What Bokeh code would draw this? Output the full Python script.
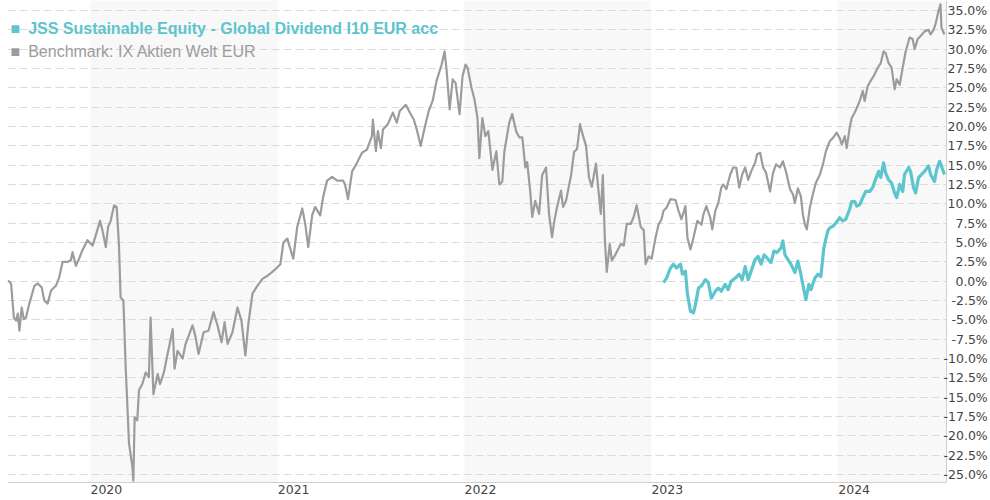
import datetime as dt
from bokeh.plotting import figure
from bokeh.models import Range1d, FixedTicker, BoxAnnotation, Label, DatetimeTickFormatter
from bokeh.embed import file_html
from bokeh.resources import INLINE

# ---------------- data (decimal years, % performance) ----------------
bench_t = [
    2019.560, 2019.576, 2019.591, 2019.603, 2019.612, 2019.621, 2019.633, 2019.644, 2019.656, 2019.674,
    2019.701, 2019.719, 2019.740, 2019.754, 2019.772, 2019.790, 2019.816, 2019.834, 2019.852, 2019.879,
    2019.896, 2019.905, 2019.923, 2019.940, 2019.958, 2019.985, 2020.012, 2020.029, 2020.052, 2020.065,
    2020.083, 2020.095, 2020.109, 2020.127, 2020.141, 2020.153, 2020.162, 2020.177, 2020.189, 2020.207,
    2020.225, 2020.230, 2020.237, 2020.251, 2020.260, 2020.278, 2020.296, 2020.313, 2020.322, 2020.337,
    2020.360, 2020.372, 2020.393, 2020.402, 2020.440, 2020.450, 2020.466, 2020.493, 2020.509, 2020.546,
    2020.562, 2020.578, 2020.605, 2020.631, 2020.658, 2020.679, 2020.701, 2020.717, 2020.733, 2020.759,
    2020.786, 2020.807, 2020.828, 2020.844, 2020.866, 2020.892, 2020.919, 2020.946, 2020.972, 2020.999,
    2021.015, 2021.031, 2021.052, 2021.063, 2021.084, 2021.105, 2021.132, 2021.148, 2021.164, 2021.185,
    2021.201, 2021.228, 2021.244, 2021.265, 2021.292, 2021.319, 2021.351, 2021.361, 2021.377, 2021.399,
    2021.425, 2021.452, 2021.478, 2021.505, 2021.510, 2021.526, 2021.537, 2021.553, 2021.564, 2021.590,
    2021.617, 2021.638, 2021.654, 2021.686, 2021.708, 2021.729, 2021.745, 2021.766, 2021.787, 2021.809,
    2021.830, 2021.851, 2021.878, 2021.894, 2021.905, 2021.921, 2021.937, 2021.953, 2021.974, 2021.990,
    2022.006, 2022.017, 2022.038, 2022.054, 2022.070, 2022.080, 2022.096, 2022.112, 2022.128, 2022.150,
    2022.171, 2022.187, 2022.203, 2022.214, 2022.240, 2022.256, 2022.278, 2022.294, 2022.310, 2022.326,
    2022.336, 2022.352, 2022.363, 2022.379, 2022.400, 2022.416, 2022.437, 2022.453, 2022.469, 2022.480,
    2022.496, 2022.517, 2022.528, 2022.544, 2022.571, 2022.587, 2022.603, 2022.619, 2022.629, 2022.651,
    2022.667, 2022.682, 2022.704, 2022.714, 2022.730, 2022.741, 2022.752, 2022.762, 2022.778, 2022.789,
    2022.810, 2022.837, 2022.853, 2022.869, 2022.890, 2022.906, 2022.922, 2022.944, 2022.960, 2022.970,
    2022.986, 2023.002, 2023.023, 2023.039, 2023.055, 2023.066, 2023.082, 2023.103, 2023.130, 2023.146,
    2023.162, 2023.183, 2023.194, 2023.210, 2023.226, 2023.247, 2023.269, 2023.279, 2023.295, 2023.316,
    2023.327, 2023.343, 2023.359, 2023.375, 2023.386, 2023.402, 2023.423, 2023.439, 2023.455, 2023.471,
    2023.487, 2023.503, 2023.519, 2023.535, 2023.556, 2023.567, 2023.583, 2023.599, 2023.615, 2023.636,
    2023.652, 2023.668, 2023.689, 2023.705, 2023.721, 2023.743, 2023.759, 2023.769, 2023.785, 2023.801,
    2023.812, 2023.823, 2023.833, 2023.849, 2023.865, 2023.881, 2023.903, 2023.919, 2023.935, 2023.956,
    2023.972, 2023.993, 2024.009, 2024.020, 2024.036, 2024.046, 2024.062, 2024.073, 2024.089, 2024.100,
    2024.116, 2024.132, 2024.142, 2024.158, 2024.174, 2024.190, 2024.212, 2024.228, 2024.243, 2024.254,
    2024.270, 2024.286, 2024.302, 2024.313, 2024.329, 2024.345, 2024.361, 2024.382, 2024.398, 2024.409,
    2024.425, 2024.441, 2024.462, 2024.483, 2024.494, 2024.510, 2024.520, 2024.536, 2024.547, 2024.552,
    2024.568,
]
bench_v = [
    0.1, -0.3, -4.7, -5.1, -4.2, -6.4, -3.4, -4.9, -4.7, -2.9,
    -0.6, -0.3, -0.8, -2.5, -2.9, -1.2, -0.6, 0.5, 2.5, 2.5,
    2.7, 3.75, 2.0, 2.9, 4.0, 5.3, 4.6, 5.9, 7.8, 6.6,
    4.4, 7.0, 7.8, 9.8, 9.6, 4.8, -2.1, -2.5, -11.1, -21.0,
    -24.0, -25.8, -17.6, -18.0, -14.1, -13.3, -11.8, -12.4, -4.7, -14.6,
    -12.0, -13.3, -11.8, -10.7, -6.2, -11.3, -9.0, -10.0, -8.1, -5.7,
    -7.2, -9.4, -6.6, -6.4, -4.0, -5.7, -7.9, -5.3, -8.1, -6.6,
    -3.4, -5.1, -9.6, -5.5, -1.6, -0.6, 0.3, 0.7, 1.2, 1.8,
    2.2, 5.0, 5.5, 4.6, 2.9, 7.0, 9.4, 7.4, 4.4, 8.5,
    9.6, 8.5, 10.9, 13.0, 13.5, 13.0, 13.0, 12.5, 10.6, 14.2,
    15.3, 16.6, 17.0, 18.75, 20.9, 16.8, 19.4, 17.2, 19.6, 20.3,
    21.8, 20.5, 22.0, 22.8, 21.8, 20.9, 19.6, 17.5, 19.8, 22.0,
    23.3, 25.9, 28.0, 29.7, 27.2, 22.2, 26.1, 25.6, 21.6, 26.5,
    28.0, 27.6, 25.0, 23.5, 21.1, 15.9, 21.1, 18.75, 19.4, 14.4,
    16.8, 12.5, 12.9, 16.8, 20.5, 21.6, 19.3, 18.6, 18.6, 14.7,
    15.4, 11.7, 8.3, 10.4, 8.7, 13.7, 14.7, 8.7, 5.7, 7.6,
    9.6, 11.7, 9.6, 10.4, 13.7, 16.7, 17.1, 20.3, 19.3, 17.5,
    13.4, 12.2, 15.2, 12.6, 8.7, 13.7, 5.3, 1.2, 4.8, 2.7,
    3.5, 4.8, 4.6, 7.4, 7.4, 8.3, 9.8, 7.0, 6.6, 2.2,
    3.2, 2.9, 5.6, 7.3, 8.0, 9.1, 9.5, 10.6, 10.5, 9.1,
    8.0, 9.7, 5.6, 4.1, 5.6, 7.8, 7.3, 8.6, 9.7, 8.2,
    6.7, 9.1, 10.1, 12.1, 12.5, 11.9, 13.8, 14.7, 14.7, 12.1,
    13.8, 14.7, 13.1, 14.2, 15.3, 16.4, 16.6, 14.7, 14.0, 11.6,
    14.0, 15.1, 14.7, 15.5, 14.2, 11.9, 11.2, 10.1, 12.0, 11.0,
    8.6, 7.3, 6.7, 9.5, 11.2, 12.7, 13.8, 15.1, 16.8, 18.1,
    18.5, 19.2, 18.5, 17.7, 18.75, 17.2, 19.8, 21.1, 21.8, 22.4,
    23.3, 24.6, 23.3, 25.2, 25.9, 26.5, 27.6, 28.2, 29.7, 29.5,
    28.2, 27.6, 24.8, 26.1, 25.4, 27.6, 29.7, 31.5, 31.3, 30.0,
    31.3, 31.7, 32.3, 32.5, 31.9, 32.5, 33.2, 34.9, 35.8, 32.8,
    31.9,
]
fund_t = [
    2023.066, 2023.082, 2023.103, 2023.119, 2023.135, 2023.157, 2023.167, 2023.183, 2023.194, 2023.210,
    2023.226, 2023.237, 2023.253, 2023.269, 2023.290, 2023.306, 2023.322, 2023.343, 2023.359, 2023.375,
    2023.396, 2023.412, 2023.428, 2023.450, 2023.471, 2023.487, 2023.503, 2023.519, 2023.535, 2023.556,
    2023.572, 2023.588, 2023.604, 2023.620, 2023.641, 2023.657, 2023.673, 2023.695, 2023.705, 2023.716,
    2023.732, 2023.748, 2023.769, 2023.785, 2023.801, 2023.817, 2023.828, 2023.844, 2023.855, 2023.876,
    2023.892, 2023.908, 2023.924, 2023.945, 2023.956, 2023.972, 2023.988, 2024.009, 2024.025, 2024.041,
    2024.062, 2024.073, 2024.089, 2024.100, 2024.116, 2024.132, 2024.148, 2024.169, 2024.185, 2024.196,
    2024.217, 2024.228, 2024.243, 2024.254, 2024.270, 2024.286, 2024.302, 2024.313, 2024.329, 2024.345,
    2024.355, 2024.377, 2024.387, 2024.403, 2024.414, 2024.430, 2024.446, 2024.462, 2024.483, 2024.494,
    2024.515, 2024.526, 2024.542, 2024.552, 2024.568,
]
fund_v = [
    -0.2, 0.4, 1.7, 2.2, 1.7, 2.2, 0.9, 1.3, -1.7, -3.9,
    -4.1, -3.0, -0.9, -0.6, 0.2, -0.2, -2.2, -1.3, -0.9, -1.3,
    -0.4, -1.1, 0.0, 0.4, 0.9, 0.2, 1.9, 0.2, 1.3, 2.8,
    3.2, 2.2, 3.4, 3.0, 2.4, 3.9, 3.7, 4.3, 5.2, 3.4,
    2.8, 2.2, 1.1, 2.6, 0.9, -1.1, -2.4, -0.4, -1.1, 0.4,
    0.9, 0.6, 4.3, 6.5, 6.9, 7.1, 7.5, 8.2, 7.8, 8.0,
    9.3, 10.3, 10.3, 9.7, 9.9, 10.8, 11.6, 11.6, 12.1, 12.9,
    14.2, 13.4, 15.3, 14.0, 13.1, 12.7, 11.4, 10.8, 12.5, 11.6,
    13.8, 14.7, 14.2, 12.1, 11.4, 13.4, 13.8, 14.2, 14.9, 13.8,
    12.9, 14.4, 15.5, 14.9, 13.8,
]
fund_name = "JSS Sustainable Equity - Global Dividend I10 EUR acc"
bench_name = "Benchmark: IX Aktien Welt EUR"
y_ticks = [-25.0, -22.5, -20.0, -17.5, -15.0, -12.5, -10.0, -7.5, -5.0, -2.5, 0.0, 2.5,
           5.0, 7.5, 10.0, 12.5, 15.0, 17.5, 20.0, 22.5, 25.0, 27.5, 30.0, 32.5, 35.0]
year_ticks = [2020, 2021, 2022, 2023, 2024]
shaded_years = [2020, 2022, 2024]

TEAL = "#5cc5cd"
GREY = "#9c9c9c"


def to_dt(t):
    y = int(t)
    start = dt.datetime(y, 1, 1)
    end = dt.datetime(y + 1, 1, 1)
    return start + (end - start) * (t - y)


def to_ms(d):
    return (d - dt.datetime(1970, 1, 1)).total_seconds() * 1000.0


x_start, x_end = to_dt(2019.557), to_dt(2024.579)

p = figure(width=990, height=500, x_axis_type="datetime", y_axis_location="right",
           x_range=Range1d(x_start, x_end), y_range=Range1d(-26.03, 36.29),
           output_backend="svg", toolbar_location=None,
           min_border_left=7, min_border_right=0, min_border_top=0, min_border_bottom=18)
p.outline_line_color = None
p.background_fill_color = "white"
p.border_fill_color = "white"

# alternating year bands
for yr in shaded_years:
    right = min(to_dt(yr + 1), x_end)
    p.add_layout(BoxAnnotation(left=to_dt(yr), right=right, fill_color="#f8f8f8",
                               fill_alpha=1.0, line_color=None, level="image"))

# grid
p.xgrid.visible = False
p.ygrid.grid_line_color = "#dadada"
p.ygrid.grid_line_dash = "8 4"
p.ygrid.grid_line_width = 1


# y axis (right) with right-aligned labels via figure/punctuation spaces
def fmt(v):
    s = f"{v:.1f}%"
    neg = v < 0
    two = abs(v) >= 10
    if neg and two:
        pad = ""
    elif neg:
        pad = "\u2007"
    elif two:
        pad = "\u2008"
    else:
        pad = "\u2007\u2008"
    return pad + s


p.yaxis.ticker = FixedTicker(ticks=y_ticks)
p.yaxis.major_label_overrides = {v: fmt(v) for v in y_ticks}
p.yaxis.major_tick_out = 0
p.yaxis.major_tick_in = 0
p.yaxis.minor_tick_out = 0
p.yaxis.minor_tick_in = 0
p.yaxis.axis_line_color = "#d0d0d0"
p.yaxis.major_label_text_font = "DejaVu Sans"
p.yaxis.major_label_text_font_size = "12.5px"
p.yaxis.major_label_text_color = "#444444"
p.yaxis.major_label_standoff = -3

# x axis: year labels starting at year boundary
label_shift = 0.086
p.xaxis.ticker = FixedTicker(ticks=[to_ms(to_dt(y + label_shift)) for y in year_ticks])
p.xaxis.formatter = DatetimeTickFormatter(years="%Y", months="%Y", days="%Y")
p.xaxis.major_tick_out = 0
p.xaxis.major_tick_in = 0
p.xaxis.minor_tick_out = 0
p.xaxis.minor_tick_in = 0
p.xaxis.axis_line_color = "#d0d0d0"
p.xaxis.major_label_text_font = "DejaVu Sans"
p.xaxis.major_label_text_font_size = "12.5px"
p.xaxis.major_label_text_color = "#444444"
p.xaxis.major_label_standoff = 2

# series
p.line([to_dt(t) for t in bench_t], bench_v, line_color=GREY, line_width=2.2, line_join="round")
p.line([to_dt(t) for t in fund_t], fund_v, line_color=TEAL, line_width=3.2, line_join="round")

# legend (top-left): square marker + series name
for i, (txt, col, style) in enumerate([(fund_name, TEAL, "bold"), (bench_name, GREY, "normal")]):
    base = 454 - 23 * i
    p.add_layout(Label(x=3, y=base, x_units="screen", y_units="screen",
                       text="\u25A0\u2002" + txt,
                       text_font="Liberation Sans", text_font_size="16px", text_color=col,
                       text_font_style=style, text_baseline="alphabetic", text_align="left"))

open("out.html", "w").write(file_html(p, INLINE))
